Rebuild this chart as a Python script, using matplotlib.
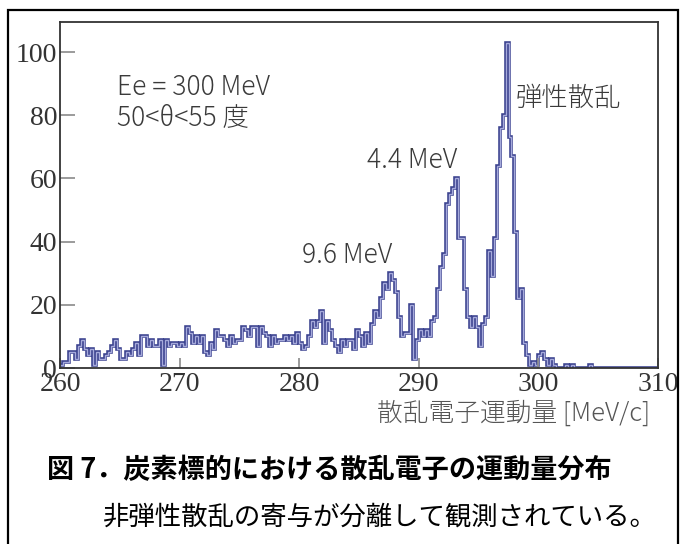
import numpy as np
import matplotlib
matplotlib.use("Agg")
import matplotlib.pyplot as plt
import matplotlib.patheffects as pe
from matplotlib.patches import Rectangle

# Scattered electron momentum spectrum, 0.25 MeV/c bins from 260 to 310
bin_lo, bin_hi, bin_w = 260.0, 310.0, 0.25
counts_260_285 = [
    1, 2, 2, 5, 5, 3, 7, 9, 6, 4, 6, 1, 5, 3, 3, 4, 5, 7, 9, 6,
    3, 3, 5, 4, 6, 8, 4, 10, 10, 7, 9, 7, 7, 9, 1, 9, 7, 8, 8, 7,
    8, 7, 13, 11, 8, 10, 8, 10, 5, 4, 8, 6, 12, 10, 10, 9, 7, 10, 8, 9,
    9, 13, 12, 10, 13, 13, 7, 13, 11, 10, 7, 10, 8, 9, 9, 10, 9, 10, 8, 11,
    8, 6, 7, 10, 15, 13, 15, 18, 8, 15, 12, 9, 7, 5, 9, 7, 9, 9, 6, 12,
]
counts_285_310 = [
    10, 7, 11, 8, 14, 18, 16, 22, 27, 25, 30, 28, 24, 16, 10, 11, 11, 20, 3, 9,
    12, 10, 12, 10, 15, 16, 25, 32, 36, 52, 55, 57, 60, 41, 41, 25, 16, 13, 16, 13,
    7, 14, 16, 37, 29, 41, 64, 76, 80, 103, 73, 67, 43, 22, 25, 8, 4, 1, 2, 1,
    4, 5, 3, 1, 3, 1, 0, 0, 0, 1, 0, 1, 0, 0, 0, 0, 0, 1, 0, 0,
    0, 0, 0, 0, 0, 0, 0, 0, 0, 0, 0, 0, 0, 0, 0, 0, 0, 0, 0, 0,
]
counts = np.array(counts_260_285 + counts_285_310)
edges = np.arange(bin_lo, bin_hi + bin_w / 2, bin_w)

xticks = [260, 270, 280, 290, 300, 310]
yticks = [0, 20, 40, 60, 80, 100]

jp = ["Noto Sans CJK JP", "DejaVu Sans"]
W, H = 688, 544

fig = plt.figure(figsize=(W / 100, H / 100), dpi=100)

# frame around the whole figure
fig.patches.append(Rectangle((8 / W, -0.02), 670 / W, (H - 10) / H + 0.02,
                             transform=fig.transFigure, fill=False,
                             lw=1.6, ec="black"))

ax = fig.add_axes([60 / W, (H - 368) / H, 598 / W, 346 / H])
ax.stairs(counts, edges, color="#a6aadb", lw=1.0,
          path_effects=[pe.Stroke(linewidth=2.6, foreground="#3d4490"), pe.Normal()])

ax.set_xlim(bin_lo, bin_hi)
ax.set_ylim(0, 109.5)
ax.set_xticks(xticks)
ax.set_yticks(yticks)
ax.tick_params(axis="both", direction="in", color="#8a8a8a", width=1.2,
               labelsize=20, labelcolor="#333333")
ax.tick_params(axis="y", length=11, pad=2)
ax.tick_params(axis="x", length=7, pad=3)
for lab in ax.get_xticklabels() + ax.get_yticklabels():
    lab.set_family("Liberation Serif")
for sp in ax.spines.values():
    sp.set_color("#333333")
    sp.set_linewidth(1.3)

txt = dict(family=jp, color="#3a3a3a", fontsize=19, weight="light",
           ha="left", va="center")
ax.text(264.75, 88.8, "Ee = 300 MeV", **txt)
ax.text(264.75, 79.2, "50<θ<55 度", **txt)
ax.text(298.1, 85.4, "弾性散乱", **txt)
ax.text(285.7, 65.8, "4.4 MeV", **txt)
ax.text(280.2, 35.8, "9.6 MeV", **txt)

fig.text(650 / W, 1 - 413 / H, "散乱電子運動量 [MeV/c]", ha="right", va="center",
         family=jp, color="#555555", fontsize=18.5, weight="light")

fig.text(47 / W, 1 - 470 / H, "図 7．炭素標的における散乱電子の運動量分布",
         ha="left", va="center", family=jp, color="black", fontsize=19.5, weight="bold")
fig.text(103 / W, 1 - 517 / H, "非弾性散乱の寄与が分離して観測されている。",
         ha="left", va="center", family=jp, color="black", fontsize=19)

fig.savefig("out.png", dpi=100)
